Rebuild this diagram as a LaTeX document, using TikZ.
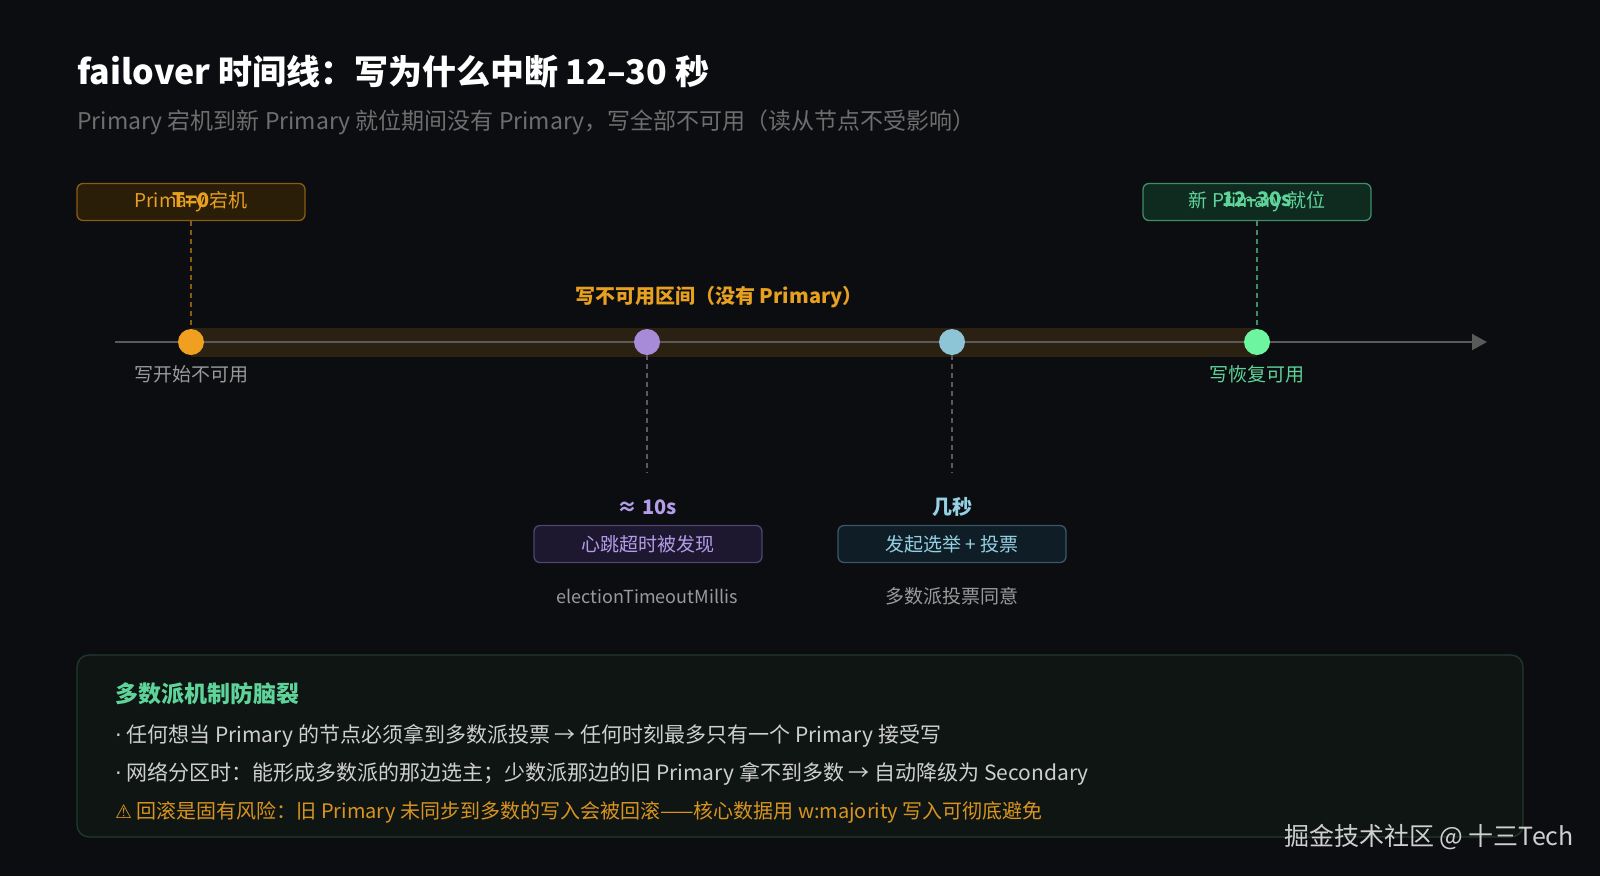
\documentclass[tikz,border=0pt]{standalone}
\usepackage{fontspec}
\setmainfont{Noto Sans CJK SC}
\newfontfamily\symfont{DejaVu Sans}
\usetikzlibrary{arrows.meta}

\definecolor{bgc}{HTML}{0B0D10}
\definecolor{subgray}{HTML}{6E6E6E}
\definecolor{lblgray}{HTML}{9A9A9A}
\definecolor{axisgray}{HTML}{5A5A5A}
\definecolor{bandc}{HTML}{2A2112}
\definecolor{orgc}{HTML}{F0A020}
\definecolor{orgtxt}{HTML}{E8A020}
\definecolor{orgfill}{HTML}{2A1E08}
\definecolor{orgline}{HTML}{8A5C12}
\definecolor{grnc}{HTML}{6EF5A0}
\definecolor{grntxt}{HTML}{5FD49A}
\definecolor{grnfill}{HTML}{0F2A1F}
\definecolor{grnline}{HTML}{3E8F68}
\definecolor{purc}{HTML}{A78BD8}
\definecolor{purtxt}{HTML}{B39DE8}
\definecolor{purfill}{HTML}{1D1830}
\definecolor{purline}{HTML}{4E4470}
\definecolor{bluc}{HTML}{8EC5D6}
\definecolor{blutxt}{HTML}{95D0E4}
\definecolor{blufill}{HTML}{0F1E26}
\definecolor{bluline}{HTML}{3A5866}
\definecolor{panfill}{HTML}{0E1513}
\definecolor{panline}{HTML}{1F3A2D}
\definecolor{bodytxt}{HTML}{CFCFCF}
\definecolor{warntxt}{HTML}{D99420}

\begin{document}
\begin{tikzpicture}[
	  x=1pt, y=-1pt,
	  lbl/.style={font=\fontsize{19}{23}\selectfont, text=lblgray, inner sep=0pt},
	  tbox/.style={draw, rounded corners=6pt, line width=1.3pt, minimum width=228pt,
	    minimum height=37pt, font=\fontsize{19}{23}\selectfont},
	  tdot/.style={circle, minimum size=26pt, inner sep=0pt},
	  guide/.style={line width=1.2pt, dash pattern=on 5pt off 4pt},
	  head/.style={font=\fontsize{20}{24}\selectfont\bfseries, inner sep=0pt},
	  line/.style={anchor=west, inner sep=0pt, font=\fontsize{21}{25}\selectfont},
	]

	\fill [bgc] (0,0) rectangle (1600,876);
	\useasboundingbox (0,0) rectangle (1600,876);

	\node [anchor=west, inner sep=0pt, text=white, font=\fontsize{34}{39}\selectfont\bfseries]
	  (title) at (77,72) {failover 时间线：写为什么中断 12–30 秒};
	\node [anchor=west, inner sep=0pt, text=subgray, font=\fontsize{23}{27}\selectfont]
	  (subtitle) at (77,122) {Primary 宕机到新 Primary 就位期间没有 Primary，写全部不可用（读从节点不受影响）};

	% timeline
	\fill [bandc] (191,328) rectangle (1257,357);
	\coordinate (tstart) at (115,342);
	\coordinate (tend) at (1487,342);
	\draw [axisgray, line width=2pt, -{Triangle[length=15pt, width=16pt]}] (tstart) -- (tend);

	\node [tdot, fill=orgc] (d0) at (191,342) {};
	\node [tdot, fill=purc] (d1) at (647,342) {};
	\node [tdot, fill=bluc] (d2) at (952,342) {};
	\node [tdot, fill=grnc] (d3) at (1257,342) {};

	\node [lbl] (l0) at (191,374) {写开始不可用};
	\node [lbl, text=grntxt] (l3) at (1257,374) {写恢复可用};
	\node [head, text=orgtxt] (gap) at (719,297) {写不可用区间（没有 Primary）};

	% top boxes
	\node [tbox, draw=orgline, fill=orgfill, text=orgtxt] (b0) at (191,202) {Primary 宕机};
	\node [head, text=orgtxt] (t0) at ([yshift=2pt]b0) {T=0};
	\node [tbox, draw=grnline, fill=grnfill, text=grntxt] (b3) at (1257,202) {新 Primary 就位};
	\node [head, text=grntxt] (t3) at ([yshift=3pt]b3) {12–30s};
	\draw [guide, orgline] (b0) -- (d0);
	\draw [guide, grnline] (b3) -- (d3);

	% bottom boxes
	\coordinate (e1) at (647,473);
	\coordinate (e2) at (952,473);
	\draw [guide, axisgray] (d1) -- (e1);
	\draw [guide, axisgray] (d2) -- (e2);

	\node [head, text=purtxt] (t1) at (647,507) {≈ 10s};
	\node [tbox, draw=purline, fill=purfill, text=purtxt] (b1) at (648,544) {心跳超时被发现};
	\node [lbl, font=\fontsize{18}{22}\selectfont] (n1) at (647,596) {electionTimeoutMillis};
	\node [head, text=blutxt] (t2) at (952,507) {几秒};
	\node [tbox, draw=bluline, fill=blufill, text=blutxt] (b2) at (952,544) {发起选举 + 投票};
	\node [lbl] (n2) at (952,596) {多数派投票同意};

	% panel
	\draw [panline, fill=panfill, line width=1.3pt, rounded corners=12pt] (77,655) rectangle (1523,837);
	\node [head, anchor=west, text=grntxt, font=\fontsize{23}{27}\selectfont\bfseries] (ptitle) at (115,694) {多数派机制防脑裂};
	\node [line, text=bodytxt] (p1) at (115,736) {{\symfont ·} 任何想当 Primary 的节点必须拿到多数派投票 → 任何时刻最多只有一个 Primary 接受写};
	\node [line, text=bodytxt] (p2) at (115,774) {{\symfont ·} 网络分区时：能形成多数派的那边选主；少数派那边的旧 Primary 拿不到多数 → 自动降级为 Secondary};
	\node [line, text=warntxt, font=\fontsize{20}{24}\selectfont] (p3) at (115,812) {{\symfont\fontsize{19}{22}\selectfont ⚠} 回滚是固有风险：旧 Primary 未同步到多数的写入会被回滚——核心数据用 w:majority 写入可彻底避免};

	\node [anchor=east, inner sep=0pt, text=bodytxt, font=\fontsize{25}{29}\selectfont]
	  (mark) at (1574,837) {掘金技术社区 @ 十三Tech};
	\end{tikzpicture}
\end{document}
